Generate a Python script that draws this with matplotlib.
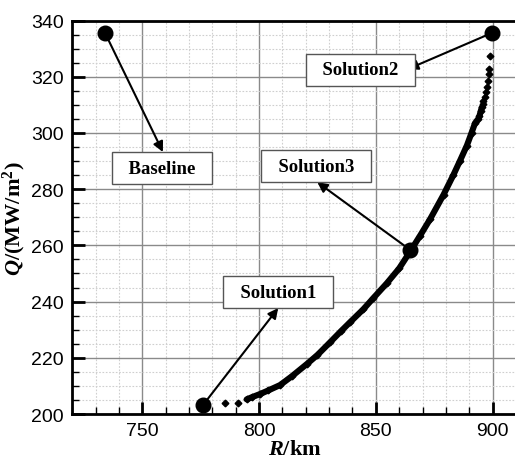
import matplotlib
matplotlib.use("Agg")
import matplotlib.pyplot as plt
from matplotlib.ticker import MultipleLocator

# ---- data ----
front_R = [785.4, 790.8, 794.7, 797.0, 800.4, 804.0, 809.0, 814.0, 820.5, 825.0,
           830.4, 835.0, 838.9, 844.7, 849.0, 854.7, 860.0, 864.7, 869.0, 873.3,
           879.0, 883.2, 886.0, 889.0, 891.0, 892.5, 893.9, 894.4, 895.0, 895.4,
           895.8, 896.1, 896.7, 897.1, 897.5, 898.0, 898.4, 898.4, 899.0]
front_Q = [203.9, 203.9, 205.2, 206.0, 207.1, 208.4, 210.3, 213.4, 217.8, 221.0,
           225.5, 229.4, 232.6, 237.3, 241.3, 246.5, 251.8, 257.8, 263.5, 269.4,
           278.0, 285.0, 290.0, 295.5, 300.0, 303.5, 305.0, 306.1, 307.9, 309.1,
           310.3, 311.5, 312.7, 314.5, 316.2, 318.6, 321.0, 322.7, 327.5]

labels = ["Baseline", "Solution2", "Solution3", "Solution1"]
sol_R = [734.0, 899.8, 864.7, 776.0]
sol_Q = [335.6, 335.6, 258.4, 203.2]
box_R = [758.4, 843.3, 824.4, 808.1]
box_Q = [287.5, 322.4, 288.2, 243.4]
tip_R = [758.8, 863.7, 824.9, 808.2]
tip_Q = [293.2, 322.7, 282.5, 237.7]

plt.rcParams['mathtext.fontset'] = 'custom'
plt.rcParams['mathtext.rm'] = 'Liberation Serif:bold'
plt.rcParams['mathtext.it'] = 'Liberation Serif:bold:italic'
plt.rcParams['mathtext.bf'] = 'Liberation Serif:bold'

fig = plt.figure(figsize=(5.15, 4.6), dpi=100)
ax = fig.add_axes([72.3/515, 45/460, 445/515, 393.5/460])

ax.set_xlim(720, 910.6)
ax.set_ylim(200, 340)

ax.xaxis.set_major_locator(MultipleLocator(50))
ax.xaxis.set_minor_locator(MultipleLocator(10))
ax.yaxis.set_major_locator(MultipleLocator(20))
ax.yaxis.set_minor_locator(MultipleLocator(5))

ax.grid(which='major', color='#8a8a8a', lw=1.0, ls='-')
ax.grid(which='minor', color='#cfcfcf', lw=0.8, ls=(0, (1.5, 1.5)))
ax.set_axisbelow(True)

ax.tick_params(which='major', direction='in', length=9, width=2, top=False, right=False,
               labelsize=14, pad=6)
ax.tick_params(which='minor', direction='in', length=5, width=1, top=False, right=False)
for lab in ax.get_xticklabels() + ax.get_yticklabels():
    lab.set_family('Liberation Sans')
for s in ax.spines.values():
    s.set_linewidth(2)
    s.set_color('black')

# Pareto front
ax.plot(front_R[2:30], front_Q[2:30], color='black', lw=4.4, solid_capstyle='round', zorder=3)
ax.plot(front_R, front_Q, ls='none', marker='D', ms=3.4, color='black', zorder=3)

# Solutions
ax.plot(sol_R, sol_Q, ls='none', marker='o', ms=10.5, color='black', zorder=4, clip_on=False)

for lab, sr, sq, br, bq, tr, tq in zip(labels, sol_R, sol_Q, box_R, box_Q, tip_R, tip_Q):
    ax.annotate('', xy=(tr, tq), xytext=(sr, sq),
                arrowprops=dict(arrowstyle='-|>', color='black', lw=1.5,
                                mutation_scale=15, shrinkA=0, shrinkB=0),
                zorder=5)
    ax.text(br, bq, '  ' + lab + '  ', ha='center', va='center', fontsize=13.5,
            family='Liberation Serif', weight='bold', zorder=6,
            bbox=dict(boxstyle='square,pad=0.38', fc='white', ec='#555555', lw=1.0))

ax.set_xlabel(r'$\mathit{R}$/km', fontsize=16, labelpad=0,
              family='Liberation Serif', weight='bold')
ax.set_ylabel(r'$\mathit{Q}$/(MW/m$^{2}$)', fontsize=16, labelpad=2,
              family='Liberation Serif', weight='bold')

fig.savefig('out.png', dpi=100)
